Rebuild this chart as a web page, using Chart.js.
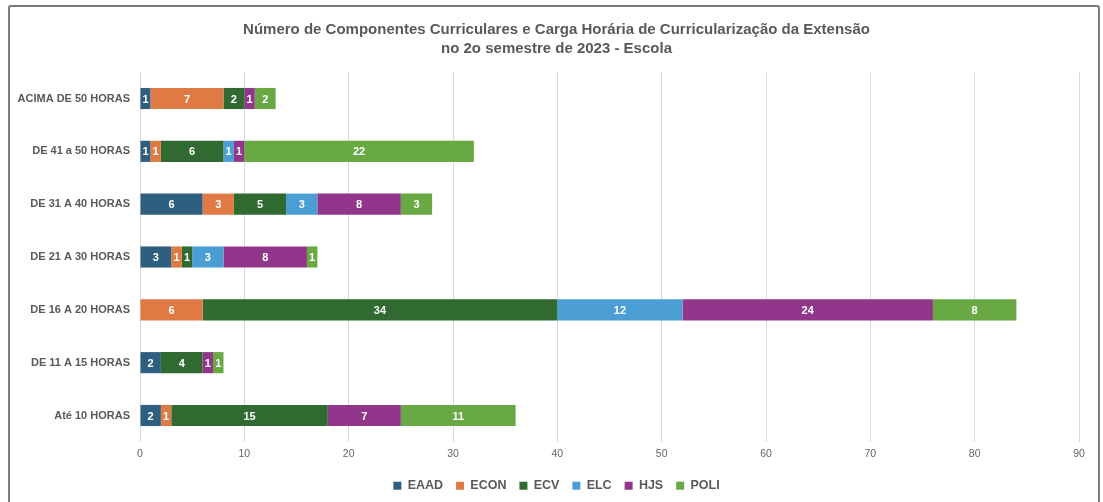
<!DOCTYPE html>
<html>
<head>
<meta charset="utf-8">
<script src="https://cdn.jsdelivr.net/npm/chart.js@4"></script>
<style>
  html, body { margin: 0; padding: 0; background: #fff; }
  #wrap { position: relative; width: 1103px; height: 502px; }
  #frame { position: absolute; left: 8px; top: 5px; width: 1088px; height: 510px; border: 2px solid #7a7a7a; border-radius: 3px; pointer-events: none; }
  canvas { position: absolute; left: 0; top: 0; }
</style>
</head>
<body>
<div id="wrap">
  <canvas id="c" width="1103" height="502"></canvas>
  <div id="frame"></div>
</div>
<script>
const categories = ["ACIMA DE 50 HORAS", "DE 41 a 50 HORAS", "DE 31 A 40 HORAS", "DE 21 A 30 HORAS", "DE 16 A 20 HORAS", "DE 11 A 15 HORAS", "Até 10 HORAS"];
const EAAD = [1, 1, 6, 3, 0, 2, 2];
const ECON = [7, 1, 3, 1, 6, 0, 1];
const ECV  = [2, 6, 5, 1, 34, 4, 15];
const ELC  = [0, 1, 3, 3, 12, 0, 0];
const HJS  = [1, 1, 8, 8, 24, 1, 7];
const POLI = [2, 22, 3, 1, 8, 1, 11];
const xTicks = [0, 10, 20, 30, 40, 50, 60, 70, 80, 90];
const titleLines = ["Número de Componentes Curriculares e Carga Horária de Curricularização da Extensão", "no 2o semestre de 2023 - Escola"];

const FONT = "'Liberation Sans', Arial, sans-serif";

const barLabels = {
  id: 'barLabels',
  afterDatasetsDraw(chart) {
    const ctx = chart.ctx;
    ctx.save();
    ctx.font = "bold 11px " + FONT;
    ctx.fillStyle = '#ffffff';
    ctx.textAlign = 'center';
    ctx.textBaseline = 'middle';
    chart.data.datasets.forEach((ds, i) => {
      const meta = chart.getDatasetMeta(i);
      if (meta.hidden) return;
      meta.data.forEach((el, j) => {
        const v = ds.data[j];
        if (!v) return;
        const p = el.getCenterPoint();
        ctx.fillText(String(v), p.x, p.y + 1);
      });
    });
    ctx.restore();
  }
};

// Centre title and legend on the framed box rather than on the padded chart
const shiftBoxes = {
  id: 'shiftBoxes',
  afterLayout(chart) {
    const dx = 12;
    [chart.titleBlock, chart.legend].forEach(b => {
      if (b) { b.left += dx; b.right += dx; }
    });
  }
};

const mk = (label, data, color) => ({ label, data, backgroundColor: color, borderWidth: 0, barPercentage: 0.4, categoryPercentage: 1.0 });

new Chart(document.getElementById('c'), {
  type: 'bar',
  data: {
    labels: categories,
    datasets: [
      mk('EAAD', EAAD, '#2f5f80'),
      mk('ECON', ECON, '#e07a45'),
      mk('ECV', ECV, '#306a30'),
      mk('ELC', ELC, '#4a9ed4'),
      mk('HJS', HJS, '#92368c'),
      mk('POLI', POLI, '#68a944')
    ]
  },
  options: {
    indexAxis: 'y',
    responsive: false,
    animation: false,
    layout: { padding: { left: 10, right: 24, top: 0, bottom: 0 } },
    plugins: {
      title: {
        display: true,
        text: titleLines,
        color: '#595959',
        font: { family: FONT, size: 15, weight: 'bold', lineHeight: 1.27 },
        padding: { top: 20, bottom: 14 }
      },
      legend: {
        position: 'bottom',
        labels: {
          color: '#595959',
          font: { family: FONT, size: 12.5, weight: 'bold' },
          boxWidth: 8,
          boxHeight: 8,
          padding: 13
        }
      },
      tooltip: { enabled: false }
    },
    scales: {
      x: {
        stacked: true,
        min: 0,
        max: 90,
        afterBuildTicks(scale) { scale.ticks = xTicks.map(v => ({ value: v })); },
        ticks: { color: '#666', font: { family: FONT, size: 10.5 }, padding: 6 },
        grid: { color: '#d9d9d9', lineWidth: 1, drawTicks: false },
        border: { display: false }
      },
      y: {
        stacked: true,
        afterFit(scale) { scale.width = 130; },
        ticks: { color: '#595959', font: { family: FONT, size: 11, weight: 'bold' }, padding: 10 },
        grid: { display: false, drawTicks: false },
        border: { display: false }
      }
    }
  },
  plugins: [barLabels, shiftBoxes]
});
</script>
</body>
</html>
